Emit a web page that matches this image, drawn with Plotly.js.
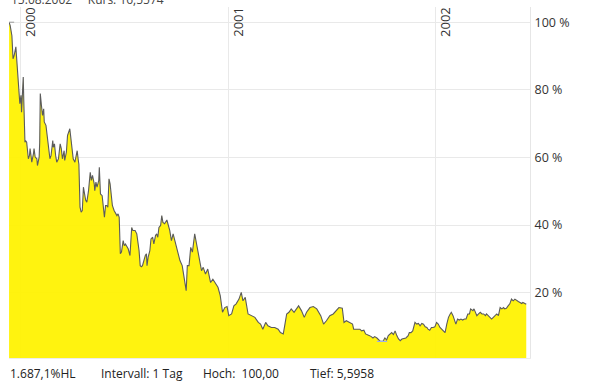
<!DOCTYPE html>
<html>
<head>
<meta charset="utf-8">
<script src="https://cdn.plot.ly/plotly-3.0.1.min.js"></script>
<style>
html,body{margin:0;padding:0;background:#fff;}
#chart{width:590px;height:389px;}
</style>
</head>
<body>
<div id="chart"></div>
<script>
// Performance indexed to 100 (%), daily closes
var dates = [
"1999-12-11","1999-12-13","1999-12-16","1999-12-17","1999-12-18","1999-12-20","1999-12-23","1999-12-24","1999-12-27","1999-12-29","1999-12-30",
"2000-01-01","2000-01-02","2000-01-04","2000-01-05","2000-01-06","2000-01-08","2000-01-09","2000-01-11","2000-01-13","2000-01-14","2000-01-16","2000-01-17","2000-01-19","2000-01-20","2000-01-23","2000-01-24","2000-01-26","2000-01-29","2000-01-30",
"2000-02-02","2000-02-03","2000-02-04","2000-02-06","2000-02-08","2000-02-10","2000-02-11","2000-02-14","2000-02-16","2000-02-19","2000-02-21","2000-02-23","2000-02-26","2000-02-27","2000-02-29",
"2000-03-02","2000-03-04","2000-03-07","2000-03-10","2000-03-12","2000-03-14","2000-03-17","2000-03-18","2000-03-21","2000-03-23","2000-03-25","2000-03-27","2000-03-29","2000-03-31",
"2000-04-02","2000-04-05","2000-04-07","2000-04-09","2000-04-11","2000-04-12","2000-04-14","2000-04-16","2000-04-18","2000-04-20","2000-04-22","2000-04-24","2000-04-26","2000-04-29",
"2000-05-02","2000-05-04","2000-05-06","2000-05-09","2000-05-10","2000-05-12","2000-05-14","2000-05-17","2000-05-18","2000-05-20","2000-05-23","2000-05-25","2000-05-27","2000-05-29","2000-05-31",
"2000-06-02","2000-06-04","2000-06-06","2000-06-08","2000-06-10","2000-06-13","2000-06-16","2000-06-18","2000-06-20","2000-06-22","2000-06-24","2000-06-26","2000-06-29",
"2000-07-01","2000-07-03","2000-07-06","2000-07-08","2000-07-11","2000-07-14","2000-07-16","2000-07-20","2000-07-23","2000-07-25","2000-07-27","2000-07-29","2000-07-31",
"2000-08-02","2000-08-05","2000-08-07","2000-08-09","2000-08-10","2000-08-12","2000-08-15","2000-08-17","2000-08-20","2000-08-22","2000-08-25","2000-08-27","2000-08-29","2000-08-31",
"2000-09-03","2000-09-05","2000-09-07","2000-09-10","2000-09-14","2000-09-19","2000-09-22","2000-09-25",
"2000-10-01","2000-10-07","2000-10-11","2000-10-14","2000-10-18","2000-10-20","2000-10-23","2000-10-26","2000-10-29",
"2000-11-02","2000-11-05","2000-11-10","2000-11-14","2000-11-17","2000-11-21","2000-11-25","2000-11-30",
"2000-12-04","2000-12-09","2000-12-13","2000-12-17","2000-12-21","2000-12-25","2000-12-29",
"2001-01-01","2001-01-06","2001-01-10","2001-01-14","2001-01-19","2001-01-23","2001-01-26","2001-01-30",
"2001-02-04","2001-02-10","2001-02-16","2001-02-22","2001-02-26",
"2001-03-02","2001-03-07","2001-03-11","2001-03-17","2001-03-23","2001-03-29",
"2001-04-02","2001-04-07","2001-04-10","2001-04-13","2001-04-17","2001-04-21","2001-04-26","2001-04-30",
"2001-05-04","2001-05-09","2001-05-14","2001-05-18","2001-05-24","2001-05-30",
"2001-06-05","2001-06-12","2001-06-17","2001-06-22","2001-06-28",
"2001-07-04","2001-07-10","2001-07-14","2001-07-20","2001-07-23","2001-07-27",
"2001-08-02","2001-08-07","2001-08-09","2001-08-14","2001-08-20","2001-08-23","2001-08-27","2001-08-30",
"2001-09-03","2001-09-06","2001-09-09","2001-09-12","2001-09-15","2001-09-19","2001-09-25","2001-09-30",
"2001-10-03","2001-10-06","2001-10-09","2001-10-12","2001-10-15","2001-10-18","2001-10-21","2001-10-24","2001-10-27","2001-10-30",
"2001-11-02","2001-11-09","2001-11-13","2001-11-15","2001-11-18","2001-11-21","2001-11-23","2001-11-25","2001-11-28",
"2001-12-01","2001-12-04","2001-12-07","2001-12-10","2001-12-13","2001-12-16","2001-12-18","2001-12-21","2001-12-24","2001-12-27","2001-12-30",
"2002-01-02","2002-01-05","2002-01-08","2002-01-11","2002-01-14","2002-01-17","2002-01-20","2002-01-23","2002-01-26","2002-01-28","2002-01-31",
"2002-02-02","2002-02-04","2002-02-05","2002-02-08","2002-02-11","2002-02-14","2002-02-17","2002-02-20","2002-02-23","2002-02-26",
"2002-03-01","2002-03-03","2002-03-07","2002-03-09","2002-03-11","2002-03-14","2002-03-17","2002-03-20","2002-03-23","2002-03-26","2002-03-29","2002-03-31",
"2002-04-03","2002-04-06","2002-04-09","2002-04-12","2002-04-15","2002-04-18","2002-04-21","2002-04-24","2002-04-27","2002-04-30",
"2002-05-02","2002-05-05","2002-05-08","2002-05-11","2002-05-14","2002-05-17","2002-05-20","2002-05-23","2002-05-26","2002-05-29",
"2002-06-01","2002-06-03","2002-06-06","2002-06-09"
];
var values = [
100,99,96,92.3,89.2,90.2,92.7,90.2,84.3,78.4,75.9,
78.4,73.4,80.4,83.8,76.4,64.5,65,64.5,61.6,59.6,60.6,62.6,60.1,58.6,61.1,62.6,60.1,59.6,57.6,
60.1,64.5,78.9,75.4,72.4,74.4,70.5,69.5,66.5,62.6,59.6,60.6,65,63,64,
60.6,58.6,59.6,64,62.6,59.6,62,59.1,61.6,66.5,67.5,68.5,65.5,61.6,
59.6,58.6,60.5,62,59.1,58,45.3,43.8,44.3,51.2,49.2,47.3,46.8,50.2,
55.6,53.2,54.7,52.2,50.2,52.7,51.2,53.2,57.1,49.2,48.7,44.8,42.3,45.8,45.8,
45.3,53.7,52.2,48.7,45.8,44.3,43.3,42.8,43.3,42.3,31.5,32,35.4,
33.9,34.4,33.4,32.9,31,39.3,38.4,38.4,37.4,34.9,32.4,28,27.7,
28,30,31,31.5,28,30.5,32.4,35.9,36.4,34.4,36.9,37.4,36.4,39.3,
39.9,42.8,40.8,40.4,41.5,38.4,35.4,37.4,
33.4,29.5,28,24.1,20.6,28,28,33.4,32,
37.4,34.4,29.5,26.5,27.5,25.5,27,23,
24,22.6,21.6,19.1,14.2,15.6,15.9,
13.2,13.7,16.1,16.7,18.1,20.1,17.6,18.6,
13.7,13.2,12.7,11.2,10.7,
9.2,11.2,10.2,9.7,9.7,9.2,
8.2,7.8,10.7,13.7,14.2,15.2,14.2,15.2,
16.1,14.7,12.7,14.2,15.6,15.9,
15.2,13.2,10.7,11.7,13.2,
13.7,14.7,15.6,15.4,11.2,11.7,
11.2,10.7,9.2,9.2,9.2,8.7,8.9,7.8,
7.6,7.3,7,6.6,7,6.6,5.5958,5.7,
6.6,6,7.3,7.8,8.2,7.6,8.7,7.3,6.3,5.8,
6.3,6.6,7.3,8.2,8.2,8.7,9.7,11.2,10.7,
10.9,10.2,10.9,10.7,9.9,9.7,9.2,8.9,9.7,9.7,9.9,
11.2,10.7,9.7,9.2,8.7,8.2,10.7,12.7,13.7,14.2,13.2,
12.2,11.7,10.7,12.2,11.9,12.2,11.9,12.2,12.2,13.7,
13.7,15.2,14.7,15.2,14.2,13.2,13.7,14.2,13.7,13.7,13.2,13.7,
13.2,12.7,12.2,12.7,13.2,13.7,13.2,15.6,15.2,15.6,
15.2,15.4,16.1,16.7,18.1,17.6,18.1,17.6,17.4,17.1,
16.8,17.1,16.7,16.56
];
var highValue = 100.00;
var lowValue = 5.5958;
var highMarkDates = ["1999-12-11","1999-12-20"];
var lowMarkDates = ["2001-09-19","2001-10-07"];
var yearTicks = ["2000-01-01","2001-01-01","2002-01-01"];
var yearLabels = ["2000","2001","2002"];
var yTicks = [20,40,60,80,100];
var yTickLabels = ["20 %","40 %","60 %","80 %","100 %"];
var NB = "\u00a0";
var headerText = "15.08.2002" + NB+NB+NB+NB+NB + "Kurs: 16,5574";
var footerTexts = ["1.687,1%HL","Intervall: 1 Tag","Hoch:" + NB+NB + "100,00","Tief: 5,5958"];

var FONT = "Open Sans, Noto Sans, sans-serif";

var traces = [
  {
    x: dates, y: values, type: "scatter", mode: "lines",
    fill: "tozeroy", fillcolor: "rgba(255,242,0,0.94)",
    line: {color: "#5b5b5b", width: 1.1},
    hoverinfo: "skip"
  },
  {
    x: highMarkDates, y: [highValue, highValue], type: "scatter", mode: "lines",
    line: {color: "#9a9a9a", width: 1}, hoverinfo: "skip"
  },
  {
    x: lowMarkDates, y: [lowValue, lowValue], type: "scatter", mode: "lines",
    line: {color: "#9fb0e6", width: 1.2}, hoverinfo: "skip"
  }
];

var annotations = [];
for (var i = 0; i < yearTicks.length; i++) {
  annotations.push({
    x: yearTicks[i], xref: "x", y: 1, yref: "paper",
    text: yearLabels[i], textangle: -90, showarrow: false,
    xanchor: "left", yanchor: "top", xshift: -2, yshift: 2,
    font: {family: FONT, size: 13, color: "#333"}
  });
}
annotations.push({
  x: 0, xref: "paper", y: 1, yref: "paper", xanchor: "left", yanchor: "bottom",
  xshift: 0, yshift: -3.5, text: headerText, showarrow: false,
  font: {family: FONT, size: 12, color: "#444"}
});
var footerX = [-0.002, 0.172, 0.3676, 0.573];
for (var j = 0; j < footerTexts.length; j++) {
  annotations.push({
    x: footerX[j], xref: "paper", y: 0, yref: "paper", xanchor: "left", yanchor: "top",
    yshift: -5, text: footerTexts[j], showarrow: false,
    font: {family: FONT, size: 12, color: "#222"}
  });
}

var layout = {
  width: 590, height: 389,
  margin: {l: 9, r: 60, t: 7, b: 31, pad: 0},
  paper_bgcolor: "#fff", plot_bgcolor: "#fff",
  showlegend: false,
  font: {family: FONT, size: 12, color: "#333"},
  xaxis: {
    type: "date",
    range: ["1999-12-10 21:36", "2002-06-15 14:24"],
    tickmode: "array", tickvals: yearTicks, showticklabels: false,
    showgrid: true, gridcolor: "#e9e9e9", gridwidth: 1,
    zeroline: false, showline: true, linecolor: "#ececec", ticks: "",
    fixedrange: true
  },
  yaxis: {
    side: "right",
    range: [0.68, 104.5],
    tickmode: "array", tickvals: yTicks, ticktext: yTickLabels,
    showgrid: true, gridcolor: "#e9e9e9", gridwidth: 1,
    zeroline: false, showline: true, linecolor: "#e6e6e6", mirror: false,
    ticks: "", ticklabelstandoff: 1,
    tickfont: {family: FONT, size: 12.5, color: "#333"},
    fixedrange: true
  },
  annotations: annotations
};

Plotly.newPlot("chart", traces, layout, {displayModeBar: false, staticPlot: true});
</script>
</body>
</html>
